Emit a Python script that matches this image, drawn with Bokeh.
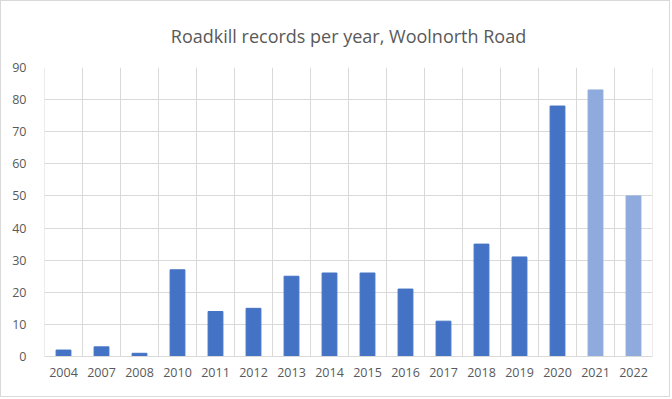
from bokeh.plotting import figure
from bokeh.models import ColumnDataSource, FactorRange, Range1d, FixedTicker, Title, Span
from bokeh.embed import file_html
from bokeh.resources import INLINE

years = ["2004", "2007", "2008", "2010", "2011", "2012", "2013", "2014",
         "2015", "2016", "2017", "2018", "2019", "2020", "2021", "2022"]
records = [2, 3, 1, 27, 14, 15, 25, 26, 26, 21, 11, 35, 31, 78, 83, 50]
dark = "#4472C4"
light = "#8FAADC"
colors = [dark] * 14 + [light] * 2

source = ColumnDataSource(dict(year=years, n=records, color=colors))

p = figure(width=670, height=397, x_range=FactorRange(*years, range_padding=0),
           y_range=Range1d(0, 90), output_backend="svg", toolbar_location=None,
           min_border_left=43, min_border_right=19, min_border_top=0, min_border_bottom=42)
p.styles = {"border": "1px solid #d9d9d9"}

# vertical gridlines at category boundaries
for k in range(len(years) + 1):
    p.add_layout(Span(location=k, dimension="height", line_color="#d9d9d9",
                      line_width=1, level="underlay"))

p.vbar(x="year", top="n", width=0.39, color="color", source=source)

p.title = Title(text="Roadkill records per year, Woolnorth Road", align="center",
                text_font="Open Sans", text_font_size="18px", text_color="#595959",
                text_font_style="normal", standoff=40)

p.outline_line_color = None
p.xgrid.grid_line_color = None
p.ygrid.ticker = FixedTicker(ticks=list(range(0, 91, 10)))
p.ygrid.grid_line_color = "#d9d9d9"
p.yaxis.ticker = FixedTicker(ticks=list(range(0, 91, 10)))

for ax in (p.xaxis, p.yaxis):
    ax.major_tick_line_color = None
    ax.minor_tick_line_color = None
    ax.major_label_text_font = "Open Sans"
    ax.major_label_text_font_size = "12.5px"
    ax.major_label_text_color = "#595959"
p.yaxis.axis_line_color = None
p.xaxis.axis_line_color = "#d9d9d9"
p.yaxis.major_label_standoff = 12
p.xaxis.major_label_standoff = 5

open("out.html", "w").write(file_html(p, INLINE))
